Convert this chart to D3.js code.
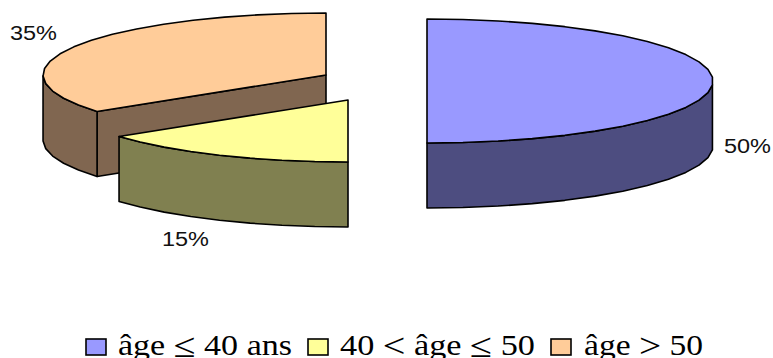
<!DOCTYPE html>
<html>
<head>
<meta charset="utf-8">
<script src="https://cdn.jsdelivr.net/npm/d3@7"></script>
<style>
  html, body { margin: 0; padding: 0; background: #fff; }
  svg { display: block; }
</style>
</head>
<body>
<div id="chart"></div>
<script>
// the data
const categories = ["âge ≤ 40 ans", "40 < âge ≤ 50", "âge > 50"];
const shares = [50, 15, 35];
const pctLabels = ["50%", "15%", "35%"];

const width = 773, height = 358;
const ry = 62, depth = 65; // ellipse height and thickness of the fake 3d pie
const topColors = ["#9999ff", "#ffff99", "#ffcc99"];
const sideColors = ["#4d4d80", "#808050", "#806650"];

// where each exploded slice ends up
const sliceCenter = [{ x: 427, y: 81, rx: 286 }, { x: 348, y: 100, rx: 283 }, { x: 326, y: 75, rx: 283 }];
const labelPos = [{ x: 724, y: 153 }, { x: 162, y: 246 }, { x: 10, y: 40 }];
const labelWidth = 47;

// legend boxes
const legendBoxX = [86, 308, 551];
const legendTextX = [118, 340, 584];
const legendTextW = [174, 195, 119];

const svg = d3.select("#chart")
  .append("svg")
  .attr("width", width)
  .attr("height", height)
  .attr("viewBox", [0, 0, width, height]);

const slices = d3.pie().sort(null)(shares);

// the original rim is slightly faceted, 2% of the turn per facet fits it
const step = 2 * Math.PI * 0.02;
function rim(a0, a1) {
  const n = Math.max(1, Math.round((a1 - a0) / step));
  return d3.range(n + 1).map(i => a0 + (a1 - a0) * i / n);
}
const line = d3.line();

// draw back to front: orange, yellow, blue
[2, 1, 0].forEach(i => {
  const s = slices[i];
  const c = sliceCenter[i];
  const pt = a => [c.rx * Math.sin(a), -ry * Math.cos(a)];
  const g = svg.append("g")
    .attr("transform", `translate(${c.x},${c.y})`)
    .attr("stroke", "#000")
    .attr("stroke-width", 1.6)
    .attr("stroke-linejoin", "round");

  const rimPts = rim(s.startAngle, s.endAngle);
  // only the part of the wall facing us is visible
  const edge = rimPts.filter(a => a >= Math.PI / 2 && a <= 1.5 * Math.PI + step / 2).map(pt);

  // cut face from the centre out to the first rim point (orange only shows it)
  if (s.startAngle > Math.PI * 1.2) {
    const p = pt(s.startAngle);
    g.append("path")
      .attr("fill", sideColors[i])
      .attr("d", line([[0, 0], p, [p[0], p[1] + depth], [0, depth]]) + "Z");
  }

  if (edge.length > 1) {
    const wall = edge.concat(edge.slice().reverse().map(p => [p[0], p[1] + depth]));
    g.append("path")
      .attr("fill", sideColors[i])
      .attr("d", line(wall) + "Z");
  }

  g.append("path")
    .attr("fill", topColors[i])
    .attr("d", line([[0, 0]].concat(rimPts.map(pt))) + "Z");
});

// percent labels, the picture is stretched sideways so force the width
svg.selectAll(".pct")
  .data(pctLabels)
  .join("text")
  .attr("class", "pct")
  .attr("x", (d, i) => labelPos[i].x)
  .attr("y", (d, i) => labelPos[i].y)
  .attr("textLength", labelWidth)
  .attr("lengthAdjust", "spacingAndGlyphs")
  .attr("font-family", "Liberation Sans")
  .attr("font-size", 20)
  .attr("fill", "#111")
  .text(d => d);

// legend
const legend = svg.selectAll(".legend")
  .data(categories)
  .join("g")
  .attr("class", "legend");

legend.append("rect")
  .attr("x", (d, i) => legendBoxX[i])
  .attr("y", 339)
  .attr("width", 20)
  .attr("height", 16)
  .attr("fill", (d, i) => topColors[i])
  .attr("stroke", "#000")
  .attr("stroke-width", 1.6);

legend.append("text")
  .attr("x", (d, i) => legendTextX[i])
  .attr("y", 355)
  .attr("textLength", (d, i) => legendTextW[i])
  .attr("lengthAdjust", "spacingAndGlyphs")
  .attr("font-family", "Liberation Serif")
  .attr("font-size", 29)
  .attr("fill", "#000")
  .selectAll("tspan")
  .data(d => d.split(/([≤<>])/))
  .join("tspan")
  // the comparison signs are wider and sit lower in the original
  .attr("font-size", d => /[≤<>]/.test(d) ? 34 : null)
  .attr("baseline-shift", d => /[≤<>]/.test(d) ? "-2px" : null)
  .text(d => d);
</script>
</body>
</html>
